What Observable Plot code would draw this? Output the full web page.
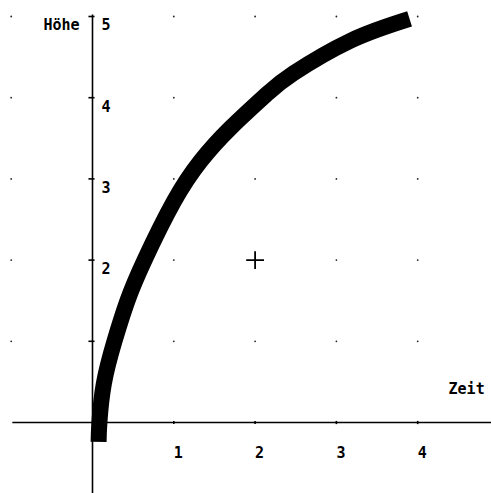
<!DOCTYPE html>
<html>
<head>
<meta charset="utf-8">
<script src="https://cdn.jsdelivr.net/npm/d3@7"></script>
<script src="https://cdn.jsdelivr.net/npm/@observablehq/plot@0.6"></script>
<style>
  html, body { margin: 0; padding: 0; background: #fff; }
  #chart svg { display: block; }
</style>
</head>
<body>
<div id="chart"></div>
<script>
// Curve: Höhe over Zeit
const zeit  = [0.075, 0.085, 0.14, 0.27, 0.43, 0.64, 1.0, 1.33, 1.70, 2.15, 2.47, 3.17, 3.90];
const hoehe = [-0.24, 0.0, 0.48, 1.0, 1.5, 2.0, 2.72, 3.22, 3.63, 4.05, 4.30, 4.70, 4.97];

const xTicks = [1, 2, 3, 4];
const yTicks = [1, 2, 3, 4, 5];
const xTickLabels = ["1", "2", "3", "4"];
const yTickLabels = ["1", "2", "3", "4", "5"];
const gridX = [-1, 1, 2, 3, 4];
const gridY = [1, 2, 3, 4, 5];
const marker = [{x: 2, y: 2}];
const xLabel = "Zeit";
const yLabel = "Höhe";

const curve = zeit.map((t, i) => ({t, h: hoehe[i]}));
const grid = gridX.flatMap(x => gridY.map(y => ({x, y})));
const xt = xTicks.map((v, i) => ({v, label: xTickLabels[i]}));
const yt = yTicks.map((v, i) => ({v, label: yTickLabels[i]}));

const W = 491, H = 493;
const x0 = 92, pxX = 81.3, y0 = 422, pxY = 81.2;

const font = "'DejaVu Sans Mono', monospace";

const chart = Plot.plot({
  width: W,
  height: H,
  margin: 0,
  style: {background: "#fff", fontFamily: font},
  x: {domain: [-x0 / pxX, (W - x0) / pxX], range: [0, W], axis: null},
  y: {domain: [-(H - y0) / pxY, y0 / pxY], range: [H, 0], axis: null},
  marks: [
    // grid dots
    Plot.dot(grid, {x: "x", y: "y", r: 0.9, fill: "#222", stroke: null}),
    // axes
    Plot.ruleY([0], {x1: -0.98, x2: 6, stroke: "#000", strokeWidth: 1.6}),
    Plot.ruleX([0], {y1: -1, y2: 5.02, stroke: "#000", strokeWidth: 1.6}),
    // y tick marks
    Plot.link(yt, {x1: -0.05, x2: 0.025, y1: "v", y2: "v", stroke: "#000", strokeWidth: 1.6}),
    // x tick marks
    Plot.link(xt, {x1: "v", x2: "v", y1: -0.02, y2: 0.02, stroke: "#000", strokeWidth: 1.6}),
    // tick labels
    Plot.text(yt.filter(d => d.v >= 2), {x: 0, y: "v", text: "label", dx: 9, dy: 9, textAnchor: "start",
      fontSize: 15, fontWeight: "bold", fill: "#000"}),
    Plot.text(xt, {x: "v", y: 0, text: "label", dx: 0, dy: 31, textAnchor: "start",
      fontSize: 15, fontWeight: "bold", fill: "#000"}),
    // axis titles
    Plot.text([yLabel], {x: 0, y: 5, text: d => d, dx: -13, dy: 9, textAnchor: "end",
      fontSize: 15, fontWeight: "bold", fill: "#000"}),
    Plot.text([xLabel], {x: 4.91, y: 0, text: d => d, dx: -7, dy: -33, textAnchor: "end",
      fontSize: 15, fontWeight: "bold", fill: "#000"}),
    // marker
    Plot.dot(marker, {x: "x", y: "y", symbol: "plus", r: 5.8, stroke: "#000", strokeWidth: 1.8}),
    // the thick curve
    Plot.line(curve, {x: "t", y: "h", curve: "natural", stroke: "#000", strokeWidth: 16,
      strokeLinecap: "butt", strokeLinejoin: "round"})
  ]
});
document.getElementById("chart").appendChild(chart);
</script>
</body>
</html>
